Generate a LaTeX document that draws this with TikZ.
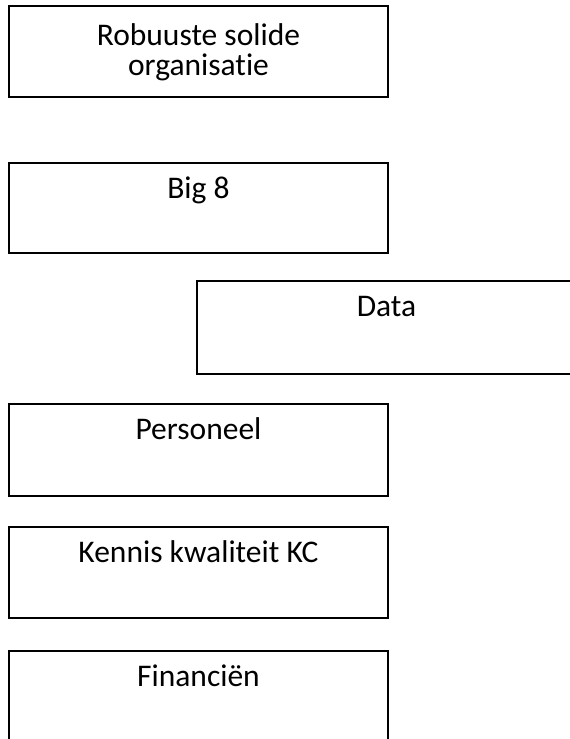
\documentclass[tikz,border=0pt]{standalone}
\usepackage{fontspec}
\setmainfont[RawFeature=-liga]{Carlito}
\tikzset{
  blok/.style={draw, line width=1.5pt, minimum width=379pt, minimum height=91pt, inner sep=0pt},
  tekst/.style={anchor=base, inner sep=0pt, align=center, font=\fontsize{31.5}{30}\selectfont, yshift=-36pt}
}
\begin{document}
\begin{tikzpicture}[x=1pt,y=-1pt]
\useasboundingbox (0,0) rectangle (570,739);
\clip (0,0) rectangle (570,739);
\node[blok, label={[tekst, anchor=north, yshift=18pt]north:Robuuste solide\\organisatie}] (robuust) at (198.5,51.5) {};
\node[blok, minimum height=90pt, label={[tekst]north:Big 8}] (big) at (198.5,208) {};
\node[blok, minimum height=93pt, label={[tekst]north:Data}] (data) at (386.5,327.5) {};
\node[blok, minimum height=92pt, label={[tekst]north:Personeel}] (personeel) at (198.5,450) {};
\node[blok, label={[tekst]north:Kennis kwaliteit KC}] (kennis) at (198.5,572.5) {};
\node[blok, label={[tekst]north:Financiën}] (financien) at (198.5,696.5) {};
\end{tikzpicture}
\end{document}
